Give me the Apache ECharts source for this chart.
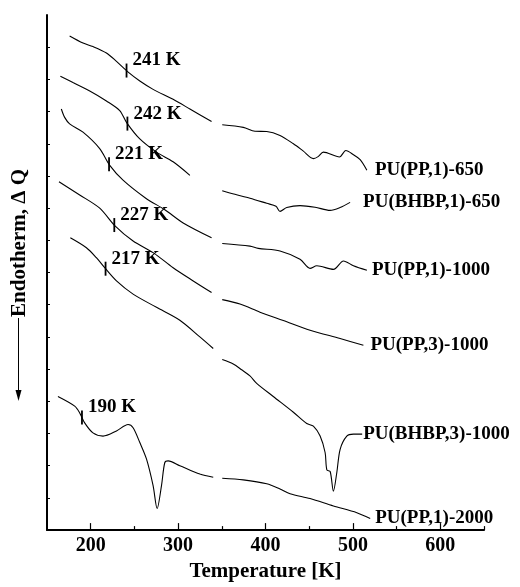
<!DOCTYPE html>
<html>
<head>
<meta charset="utf-8">
<script src="https://cdn.jsdelivr.net/npm/echarts@6.0.0/dist/echarts.min.js"></script>
<style>
  html, body { margin: 0; padding: 0; background: #fff; }
  #chart { width: 520px; height: 587px; }
</style>
</head>
<body>
<div id="chart"></div>
<script>
// DSC traces: [temperature K, heat flow (arbitrary, stacked)]; each run is split
// into a low-temperature scan and a high-temperature scan.
const pp1_650_low = [[175.9,15.35],[191.2,15.13],[202.6,15.02],[218.0,14.82],[229.5,14.56],[243.6,14.21],[256.2,13.95],[271.4,13.69],[294.3,13.38],[313.5,13.08],[338.3,12.69]];
const pp1_650_high = [[350.5,12.59],[374.6,12.51],[388.0,12.39],[401.4,12.38],[416.6,12.26],[431.9,12.0],[443.0,11.78],[454.8,11.54],[460.2,11.6],[466.2,11.74],[484.6,11.59],[491.9,11.79],[500.6,11.66],[508.3,11.51],[516.0,11.18]];

const bhbp1_650_low = [[165.3,14.10],[179.7,13.90],[198.9,13.64],[218.0,13.33],[233.2,13.03],[241.3,12.65],[256.2,12.15],[275.3,11.74],[294.3,11.44],[313.5,11.02]];
const bhbp1_650_high = [[350.5,10.54],[365.0,10.43],[382.2,10.31],[401.4,10.15],[412.0,10.06],[416.6,9.90],[424.3,10.02],[439.5,10.08],[456.7,10.03],[473.9,9.93],[485.4,10.02],[496.8,10.18]];

const pp1_1000_low = [[166.4,13.08],[170.2,12.82],[175.9,12.62],[191.2,12.36],[210.3,11.85],[221.8,11.33],[237.0,10.87],[263.0,10.31],[284.8,9.95],[305.8,9.54],[338.3,9.08]];
const pp1_1000_high = [[350.5,8.90],[382.2,8.82],[391.7,8.75],[416.6,8.67],[439.5,8.41],[451.0,8.13],[458.7,8.21],[477.7,8.10],[489.2,8.36],[500.6,8.21],[516.0,8.07]];

const pp3_1000_low = [[163.7,10.82],[187.4,10.41],[210.3,10.0],[227.5,9.46],[248.5,8.98],[271.4,8.62],[294.3,8.15],[317.3,7.74],[338.3,7.38]];
const pp3_1000_high = [[350.5,7.16],[370.8,7.02],[393.7,6.77],[420.4,6.51],[451.0,6.21],[485.4,5.95],[512.0,5.74]];

const bhbp3_1000_low = [[176.7,9.08],[195.1,8.77],[206.5,8.46],[216.0,8.15],[229.5,7.74],[248.5,7.33],[275.3,6.92],[302.0,6.52],[324.9,6.0],[340.2,5.64]];
const bhbp3_1000_high = [[350.5,5.30],[363.1,5.16],[372.7,4.98],[382.2,4.79],[389.9,4.56],[408.9,4.15],[431.9,3.66],[447.2,3.31],[454.8,3.23],[462.5,2.92],[468.2,2.41],[470.2,1.87],[474.0,1.82],[477.7,1.21],[481.6,1.79],[485.4,2.51],[493.0,2.92],[500.6,2.98],[510.6,2.98]];

const pp1_2000_low = [[162.5,4.15],[181.7,3.85],[187.4,3.64],[193.1,3.33],[202.6,3.02],[214.1,2.92],[229.5,3.08],[242.8,3.28],[248.5,3.18],[256.2,2.72],[263.8,2.21],[271.4,1.38],[276.0,0.67],[281.0,1.38],[284.8,2.10],[288.6,2.15],[302.0,2.0],[324.9,1.74],[340.2,1.64]];
const pp1_2000_high = [[350.5,1.61],[374.6,1.56],[401.4,1.44],[416.6,1.28],[428.1,1.13],[451.0,0.98],[477.7,0.75],[504.5,0.54],[519.8,0.36]];

const sampleNames = ['PU(PP,1)-650', 'PU(BHBP,1)-650', 'PU(PP,1)-1000', 'PU(PP,3)-1000', 'PU(BHBP,3)-1000', 'PU(PP,1)-2000'];
const glassTemps = [241, 242, 221, 227, 217, 190];
const majorTicks = [200, 300, 400, 500, 600];
const minorTicks = [250, 350, 450, 550, 650];

// layout: gap (px) between each trace end and its sample name
const nameGaps = [8, 13, 5, 7, 1, 5];

const runs = [
  [pp1_650_low, pp1_650_high],
  [bhbp1_650_low, bhbp1_650_high],
  [pp1_1000_low, pp1_1000_high],
  [pp3_1000_low, pp3_1000_high],
  [bhbp3_1000_low, bhbp3_1000_high],
  [pp1_2000_low, pp1_2000_high]
];

const SERIF = '"Liberation Serif", "Times New Roman", serif';

function valueAt(points, t) {
  for (let i = 0; i < points.length - 1; i++) {
    const a = points[i], b = points[i + 1];
    if (t >= a[0] && t <= b[0]) {
      return a[1] + (b[1] - a[1]) * (t - a[0]) / (b[0] - a[0]);
    }
  }
  return points[points.length - 1][1];
}

const lineStyle = { color: '#000', width: 1.1 };
const series = [];
runs.forEach(function (run, i) {
  series.push({
    type: 'line', data: run[0], showSymbol: false, smooth: 0.3,
    lineStyle: lineStyle, silent: true, z: 3
  });
  series.push({
    type: 'line', data: run[1], showSymbol: false, smooth: 0.3,
    lineStyle: lineStyle, silent: true, z: 3,
    endLabel: {
      show: true, formatter: sampleNames[i], distance: nameGaps[i],
      fontFamily: SERIF, fontWeight: 'bold', fontSize: 19, color: '#000'
    }
  });
});

// glass transition markers with their temperature labels
series.push({
  type: 'custom',
  data: glassTemps.map(function (t, i) { return [t, valueAt(runs[i][0], t)]; }),
  renderItem: function (params, api) {
    const p = api.coord([api.value(0), api.value(1)]);
    return {
      type: 'group',
      children: [
        { type: 'line', shape: { x1: p[0], y1: p[1] - 7, x2: p[0], y2: p[1] + 7 },
          style: { stroke: '#000', lineWidth: 1.8 } },
        { type: 'text', x: p[0] + 6, y: p[1] - 10,
          style: { text: glassTemps[params.dataIndex] + ' K', font: 'bold 19px ' + SERIF,
                   fill: '#000', align: 'left', verticalAlign: 'middle' } }
      ]
    };
  },
  z: 4
});

const chart = echarts.init(document.getElementById('chart'), null, { renderer: 'canvas' });
chart.setOption({
  animation: false,
  backgroundColor: '#fff',
  grid: { left: 47, right: 36, top: 15, bottom: 52 },
  xAxis: [
    {
      type: 'value', min: 150, max: 650, position: 'bottom',
      name: 'Temperature [K]', nameLocation: 'middle', nameGap: 22,
      nameTextStyle: { fontFamily: SERIF, fontWeight: 'bold', fontSize: 21, color: '#000' },
      axisLine: { lineStyle: { color: '#000', width: 2 } },
      axisTick: { inside: true, length: 7, customValues: majorTicks, lineStyle: { color: '#000', width: 1.2 } },
      axisLabel: { customValues: majorTicks, margin: 6, fontFamily: SERIF, fontWeight: 'bold', fontSize: 20, color: '#000' },
      splitLine: { show: false }
    },
    {
      type: 'value', min: 150, max: 650, position: 'bottom', gridIndex: 0,
      axisLine: { show: false },
      axisTick: { inside: true, length: 4, customValues: minorTicks, lineStyle: { color: '#000', width: 1.2 } },
      axisLabel: { show: false },
      splitLine: { show: false }
    }
  ],
  yAxis: {
    type: 'value', min: 0, max: 16,
    axisLine: { show: true, lineStyle: { color: '#000', width: 2 } },
    axisTick: { show: true, inside: true, length: 3,
                customValues: [1,2,3,4,5,6,7,8,9,10,11,12,13,14,15],
                lineStyle: { color: '#000', width: 1 } },
    axisLabel: { show: false },
    splitLine: { show: false }
  },
  graphic: [
    { type: 'text', x: 20, y: 243, rotation: Math.PI / 2,
      style: { text: 'Endotherm, \u0394 Q', font: 'bold 21px ' + SERIF, fill: '#000',
               align: 'center', verticalAlign: 'middle' } },
    { type: 'line', shape: { x1: 18.5, y1: 318, x2: 18.5, y2: 392 },
      style: { stroke: '#000', lineWidth: 1 } },
    { type: 'polygon', shape: { points: [[15.5, 390], [21.5, 390], [18.5, 401]] },
      style: { fill: '#000' } }
  ],
  series: series
});
</script>
</body>
</html>
